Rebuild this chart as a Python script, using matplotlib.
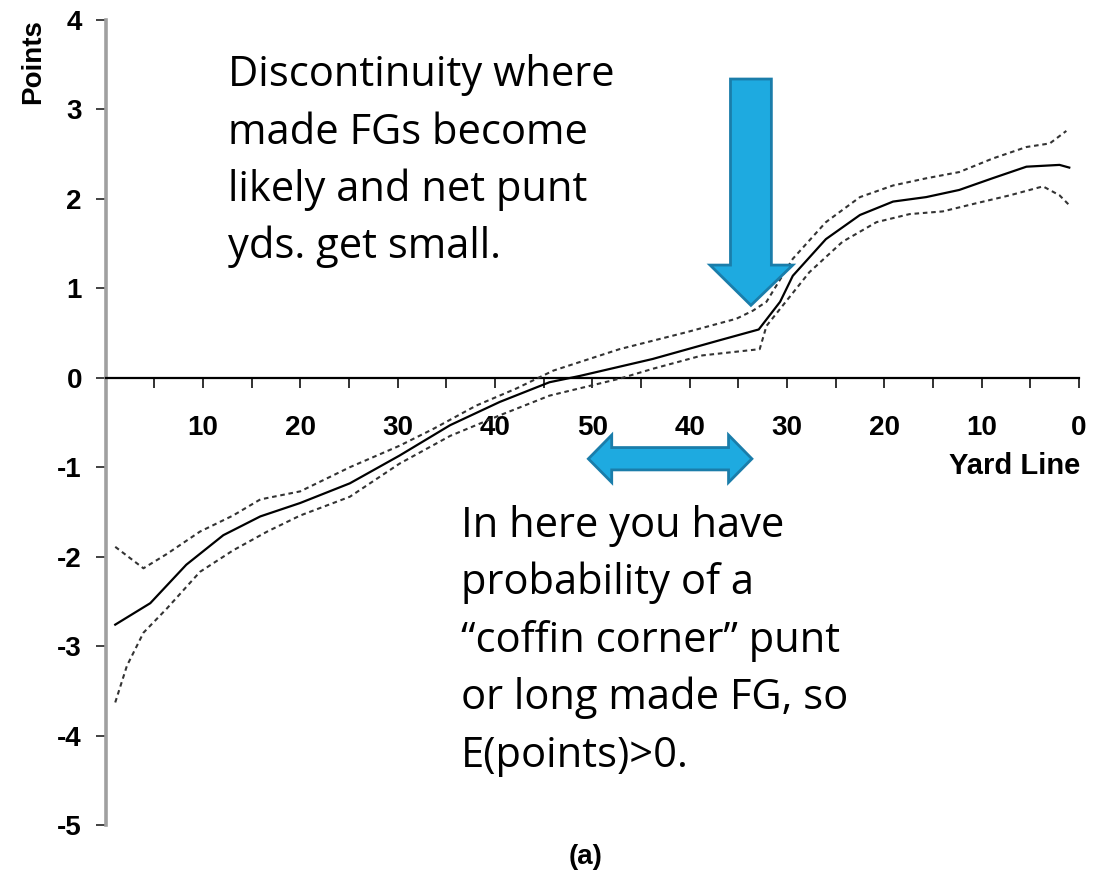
import matplotlib.pyplot as plt
from matplotlib.patches import Polygon

# Expected points by field position (yard line measured from own goal)
mean_yd = [1, 4.6, 8.3, 12.1, 15.9, 20, 25.1, 30.2, 35.4, 40.5, 45.6, 48.7, 56.2,
           63.1, 67.1, 69.3, 70.6, 74.0, 77.5, 80.9, 84.3, 87.7, 91.1, 94.6, 98.0, 99.0]
mean_pts = [-2.76, -2.52, -2.09, -1.76, -1.55, -1.40, -1.18, -0.87, -0.53, -0.27, -0.05, 0.02, 0.21,
            0.42, 0.54, 0.85, 1.14, 1.55, 1.82, 1.97, 2.02, 2.10, 2.23, 2.36, 2.38, 2.35]

upper_yd = [1.0, 3.9, 6.3, 9.7, 13.1, 15.9, 20, 25.1, 30.2, 33.7, 38.1, 42.2, 46.0, 52.8,
            59.7, 64.8, 66.5, 67.9, 70.6, 74.0, 77.5, 80.9, 84.3, 87.7, 91.1, 94.6, 97.0, 98.7]
upper_pts = [-1.89, -2.13, -1.97, -1.72, -1.54, -1.36, -1.27, -1.0, -0.76, -0.57, -0.31, -0.12, 0.08, 0.32,
             0.51, 0.66, 0.75, 0.85, 1.33, 1.74, 2.02, 2.15, 2.23, 2.30, 2.45, 2.58, 2.62, 2.76]

lower_yd = [1.0, 2.2, 3.9, 6.3, 9.7, 13.1, 16.6, 20, 25.1, 30.2, 35.4, 40.5, 45.6, 52.8,
            56.2, 61.3, 67.2, 67.9, 72.3, 75.7, 79.2, 82.6, 86.0, 89.4, 92.9, 96.3, 98.0, 99.0]
lower_pts = [-3.63, -3.22, -2.85, -2.58, -2.17, -1.93, -1.72, -1.54, -1.33, -0.96, -0.65, -0.42, -0.20, -0.01,
             0.10, 0.25, 0.32, 0.58, 1.18, 1.52, 1.74, 1.83, 1.86, 1.95, 2.04, 2.14, 2.04, 1.93]

xtick_pos = [10, 20, 30, 40, 50, 60, 70, 80, 90, 100]
xtick_lab = ["10", "20", "30", "40", "50", "40", "30", "20", "10", "0"]
ytick_pos = [4, 3, 2, 1, 0, -1, -2, -3, -4, -5]
ytick_lab = ["4", "3", "2", "1", "0", "-1", "-2", "-3", "-4", "-5"]

note_top = ["Discontinuity where", "made FGs become", "likely and net punt", "yds. get small."]
note_bot = ["In here you have", "probability of a", "\u201ccoffin corner\u201d punt",
            "or long made FG, so", "E(points)>0."]

W, H = 1099, 872
fig = plt.figure(figsize=(W / 100, H / 100), dpi=100)
ax = fig.add_axes([105.5 / W, 1 - 825 / H, (1079 - 105.5) / W, (825 - 20) / H])

tick_font = dict(family="Liberation Sans", size=20, weight="bold")

ax.plot(mean_yd, mean_pts, color="black", lw=1.6, zorder=3)
ax.plot(upper_yd, upper_pts, color="#333333", lw=1.5, ls=(0, (2.2, 1.8)), zorder=3)
ax.plot(lower_yd, lower_pts, color="#333333", lw=1.5, ls=(0, (2.2, 1.8)), zorder=3)

ax.set_xlim(0, 100)
ax.set_ylim(-5, 4)
for s in ["top", "right"]:
    ax.spines[s].set_visible(False)
ax.spines["bottom"].set_position(("data", 0))
ax.spines["bottom"].set_linewidth(1.6)
ax.spines["left"].set_color("#a0a0a0")
ax.spines["left"].set_linewidth(2.6)

ax.set_xticks(xtick_pos)
ax.set_xticklabels(xtick_lab, fontdict=tick_font)
ax.set_xticks(range(5, 100, 10), minor=True)
ax.tick_params(axis="x", which="both", direction="out", length=7, width=1.3, color="#222222")
ax.tick_params(axis="x", which="major", pad=20)
ax.set_yticks(ytick_pos)
ax.set_yticklabels(ytick_lab, fontdict=tick_font)
ax.tick_params(axis="y", direction="out", length=7, width=1.3, color="#333333", pad=10)

fig.text(33 / W, 1 - 62 / H, "Points", rotation=90, ha="center", va="center",
         fontdict=tick_font)
fig.text(1080 / W, 1 - 466 / H, "Yard Line", ha="right", va="center",
         family="Liberation Sans", size=21, weight="bold")
fig.text(586 / W, 1 - 857 / H, "(a)", ha="center", va="center", fontdict=tick_font)

note_font = dict(family="Open Sans", size=30)
for i, line in enumerate(note_top):
    fig.text(228 / W, 1 - (86.5 + 57.2 * i) / H, line, ha="left", va="baseline", **note_font)
for i, line in enumerate(note_bot):
    fig.text(461 / W, 1 - (536.7 + 57.5 * i) / H, line, ha="left", va="baseline", **note_font)

# block arrows
fill, edge = "#1eaae0", "#1a7daa"
down = [(64.2, 3.34), (68.4, 3.34), (68.4, 1.26), (70.6, 1.26), (66.3, 0.81),
        (62.1, 1.26), (64.2, 1.26)]
both = [(49.6, -0.906), (52.0, -0.64), (52.0, -0.78), (64.0, -0.78), (64.0, -0.64),
        (66.4, -0.906), (64.0, -1.17), (64.0, -1.03), (52.0, -1.03), (52.0, -1.17)]
for pts in (down, both):
    ax.add_patch(Polygon(pts, closed=True, facecolor=fill, edgecolor=edge, lw=2,
                         zorder=5, clip_on=False))

fig.savefig("out.png", dpi=100)
